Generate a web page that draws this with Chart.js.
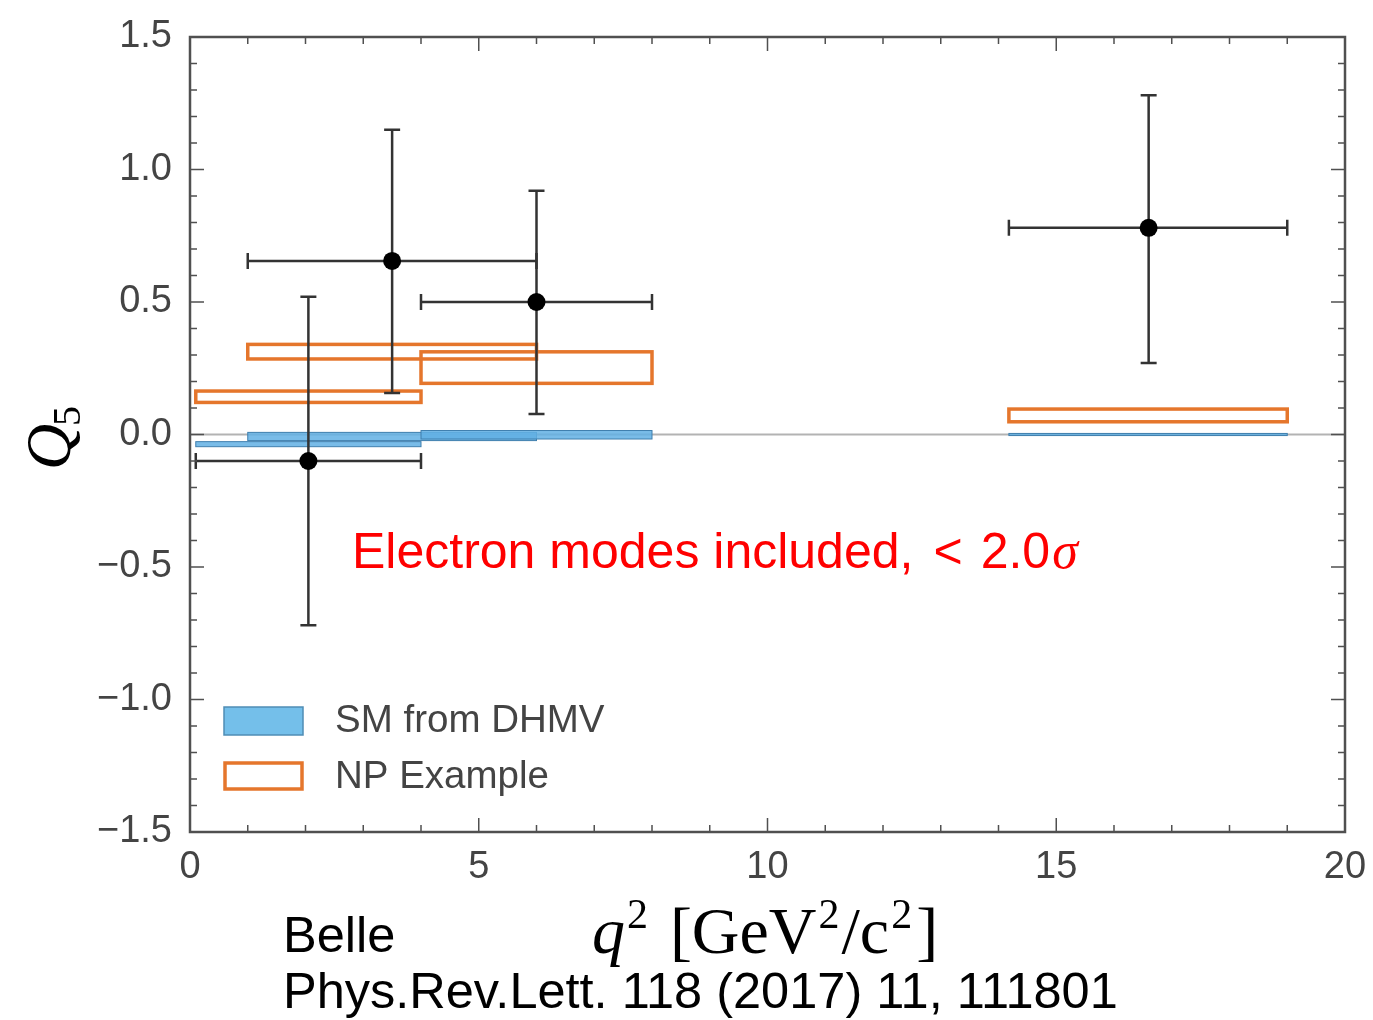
<!DOCTYPE html>
<html><head><meta charset="utf-8">
<script src="https://cdn.jsdelivr.net/npm/chart.js@4/dist/chart.umd.min.js"></script>
<style>html,body{margin:0;padding:0;background:#fff;}#wrap{width:1373px;height:1020px;position:relative;}</style>
</head><body><div id="wrap"><canvas id="c" width="1373" height="1020" style="width:1373px;height:1020px;"></canvas></div>
<script>
// ---- data ----
const pointX = [2.05, 3.5, 6.0, 16.6];
const pointY = [-0.10, 0.655, 0.50, 0.78];
const binLow = [0.1, 1.0, 4.0, 14.18];
const binHigh = [4.0, 6.0, 8.0, 19.0];
const errLow = [-0.72, 0.157, 0.077, 0.27];
const errHigh = [0.52, 1.15, 0.92, 1.28];
const smLow = [-0.046, -0.023, -0.017, -0.004];
const smHigh = [-0.027, 0.008, 0.015, 0.004];
const npLow = [0.121, 0.285, 0.193, 0.048];
const npHigh = [0.164, 0.34, 0.312, 0.096];
const xTickValues = [0, 5, 10, 15, 20];
const yTickValues = [-1.5, -1.0, -0.5, 0.0, 0.5, 1.0, 1.5];
const legendLabels = ['SM from DHMV', 'NP Example'];
const annotationParts = ['Electron modes included,', '<', '2.0', 'σ'];
const sourceLines = ['Belle', 'Phys.Rev.Lett. 118 (2017) 11, 111801'];

const ORANGE = '#e5762c';
const SMFILL = 'rgba(98,176,228,0.85)';
const SMEDGE = '#3f7fae';
const FRAME = '#505050';
const SANS = '"Liberation Sans", Arial, sans-serif';
const SERIF = '"Liberation Serif", "DejaVu Serif", serif';

const drawPlugin = {
  id: 'custom',
  beforeDatasetsDraw(chart) {
    const ctx = chart.ctx, xs = chart.scales.x, ys = chart.scales.y, a = chart.chartArea;
    ctx.save();
    ctx.strokeStyle = '#b3b3b3'; ctx.lineWidth = 2;
    ctx.beginPath(); ctx.moveTo(a.left, ys.getPixelForValue(0)); ctx.lineTo(a.right, ys.getPixelForValue(0)); ctx.stroke();
    for (let i = 0; i < binLow.length; i++) {
      const x0 = xs.getPixelForValue(binLow[i]), x1 = xs.getPixelForValue(binHigh[i]);
      const y0 = ys.getPixelForValue(smHigh[i]), y1 = ys.getPixelForValue(smLow[i]);
      ctx.fillStyle = SMFILL; ctx.fillRect(x0, y0, x1 - x0, y1 - y0);
      ctx.strokeStyle = SMEDGE; ctx.lineWidth = 1; ctx.strokeRect(x0, y0, x1 - x0, y1 - y0);
    }
    ctx.strokeStyle = ORANGE; ctx.lineWidth = 3.5;
    for (let i = 0; i < binLow.length; i++) {
      const x0 = xs.getPixelForValue(binLow[i]), x1 = xs.getPixelForValue(binHigh[i]);
      const y0 = ys.getPixelForValue(npHigh[i]), y1 = ys.getPixelForValue(npLow[i]);
      ctx.strokeRect(x0, y0, x1 - x0, y1 - y0);
    }
    ctx.strokeStyle = '#333333'; ctx.lineWidth = 2.5;
    const cap = 8;
    for (let i = 0; i < pointX.length; i++) {
      const px = xs.getPixelForValue(pointX[i]), py = ys.getPixelForValue(pointY[i]);
      const xl = xs.getPixelForValue(binLow[i]), xh = xs.getPixelForValue(binHigh[i]);
      const yl = ys.getPixelForValue(errLow[i]), yh = ys.getPixelForValue(errHigh[i]);
      ctx.beginPath();
      ctx.moveTo(xl, py); ctx.lineTo(xh, py);
      ctx.moveTo(xl, py - cap); ctx.lineTo(xl, py + cap);
      ctx.moveTo(xh, py - cap); ctx.lineTo(xh, py + cap);
      ctx.moveTo(px, yl); ctx.lineTo(px, yh);
      ctx.moveTo(px - cap, yl); ctx.lineTo(px + cap, yl);
      ctx.moveTo(px - cap, yh); ctx.lineTo(px + cap, yh);
      ctx.stroke();
    }
    ctx.restore();
  },
  afterDraw(chart) {
    const ctx = chart.ctx, xs = chart.scales.x, ys = chart.scales.y, a = chart.chartArea;
    ctx.save();
    ctx.strokeStyle = FRAME; ctx.lineWidth = 2.5;
    ctx.strokeRect(a.left, a.top, a.right - a.left, a.bottom - a.top);
    ctx.lineWidth = 1.5;
    ctx.beginPath();
    for (let v = xs.min; v <= xs.max + 1e-9; v += 1) {
      const major = Math.abs(v % 5) < 1e-9;
      const L = major ? 14 : 7, x = xs.getPixelForValue(v);
      ctx.moveTo(x, a.bottom); ctx.lineTo(x, a.bottom - L);
      ctx.moveTo(x, a.top); ctx.lineTo(x, a.top + L);
    }
    for (let k = -15; k <= 15; k++) {
      const v = k / 10, major = (k % 5 === 0);
      const L = major ? 14 : 7, y = ys.getPixelForValue(v);
      ctx.moveTo(a.left, y); ctx.lineTo(a.left + L, y);
      ctx.moveTo(a.right, y); ctx.lineTo(a.right - L, y);
    }
    ctx.stroke();

    // legend
    const lx = 224, lw = 79;
    ctx.fillStyle = '#74bfea'; ctx.fillRect(lx, 707, lw, 28);
    ctx.strokeStyle = '#4f8db5'; ctx.lineWidth = 1.5; ctx.strokeRect(lx, 707, lw, 28);
    ctx.strokeStyle = ORANGE; ctx.lineWidth = 3.5; ctx.strokeRect(lx + 1, 763, lw - 2, 26);
    ctx.fillStyle = '#444444'; ctx.font = '38.5px ' + SANS; ctx.textBaseline = 'middle'; ctx.textAlign = 'left';
    ctx.fillText(legendLabels[0], 335, 721);
    ctx.fillText(legendLabels[1], 335, 777);

    // annotation
    ctx.textBaseline = 'alphabetic';
    ctx.fillStyle = '#ff0000'; ctx.font = '50px ' + SANS;
    let ax = 352;
    ctx.fillText(annotationParts[0], ax, 568);
    ax += ctx.measureText(annotationParts[0]).width + 20;
    ctx.fillText(annotationParts[1], ax, 568);
    ax += ctx.measureText(annotationParts[1]).width + 18;
    ctx.fillText(annotationParts[2], ax, 568);
    ax += ctx.measureText(annotationParts[2]).width + 2;
    ctx.font = 'italic 52px ' + SERIF;
    ctx.fillText(annotationParts[3], ax, 568);

    // source text
    ctx.fillStyle = '#000000'; ctx.font = '50.5px ' + SANS;
    ctx.fillText(sourceLines[0], 283, 952);
    ctx.fillText(sourceLines[1], 283, 1008);

    // x axis title
    const big = '66px ' + SERIF, sup = '42px ' + SERIF;
    const parts = [
      ['q', 'italic ' + big, 0, 2], ['2', sup, -25, 22], ['[GeV', big, 0, 2], ['2', sup, -25, 2],
      ['/c', big, 0, 2], ['2', sup, -25, 4], [']', big, 0, 0]
    ];
    let tw = 0;
    parts.forEach(p => { ctx.font = p[1]; p.push(ctx.measureText(p[0]).width + p[3]); tw += p[4]; });
    let cx = 765 - tw / 2;
    parts.forEach(p => { ctx.font = p[1]; ctx.fillText(p[0], cx, 953 + p[2]); cx += p[4]; });

    // y axis title
    ctx.translate(70, 437); ctx.rotate(-Math.PI / 2);
    ctx.font = 'italic 64px ' + SERIF;
    const qw = ctx.measureText('Q').width;
    ctx.font = '40px ' + SERIF;
    const fw = ctx.measureText('5').width;
    const start = -(qw + fw) / 2;
    ctx.font = 'italic 64px ' + SERIF; ctx.fillText('Q', start, 0);
    ctx.font = '40px ' + SERIF; ctx.fillText('5', start + qw - 2, 10);
    ctx.restore();
  }
};

const fmtY = v => (v < 0 ? '\u2212' : '') + Math.abs(v).toFixed(1);

new Chart(document.getElementById('c'), {
  type: 'scatter',
  data: {
    datasets: [{
      data: pointX.map((x, i) => ({ x: x, y: pointY[i] })),
      pointRadius: 9, pointHoverRadius: 9,
      backgroundColor: '#000000', borderWidth: 0
    }]
  },
  options: {
    responsive: false, maintainAspectRatio: false, animation: false, devicePixelRatio: 1,
    layout: { padding: { top: 37, right: 28, left: 0, bottom: 0 } },
    plugins: { legend: { display: false }, tooltip: { enabled: false } },
    scales: {
      x: {
        type: 'linear', min: 0, max: 20,
        afterFit: s => { s.height = 188; s.paddingLeft = 0; s.paddingRight = 0; },
        afterBuildTicks: s => { s.ticks = xTickValues.map(v => ({ value: v })); },
        grid: { display: false, drawTicks: false }, border: { display: false },
        ticks: { color: '#444444', font: { family: SANS, size: 38 }, padding: 13, maxRotation: 0, callback: v => String(v) }
      },
      y: {
        type: 'linear', min: -1.5, max: 1.5,
        afterFit: s => { s.width = 190; s.paddingTop = 0; s.paddingBottom = 0; },
        afterBuildTicks: s => { s.ticks = yTickValues.map(v => ({ value: v })); },
        grid: { display: false, drawTicks: false }, border: { display: false },
        ticks: { color: '#444444', font: { family: SANS, size: 38 }, padding: 18, callback: v => fmtY(v) }
      }
    }
  },
  plugins: [drawPlugin]
});
</script></body></html>
